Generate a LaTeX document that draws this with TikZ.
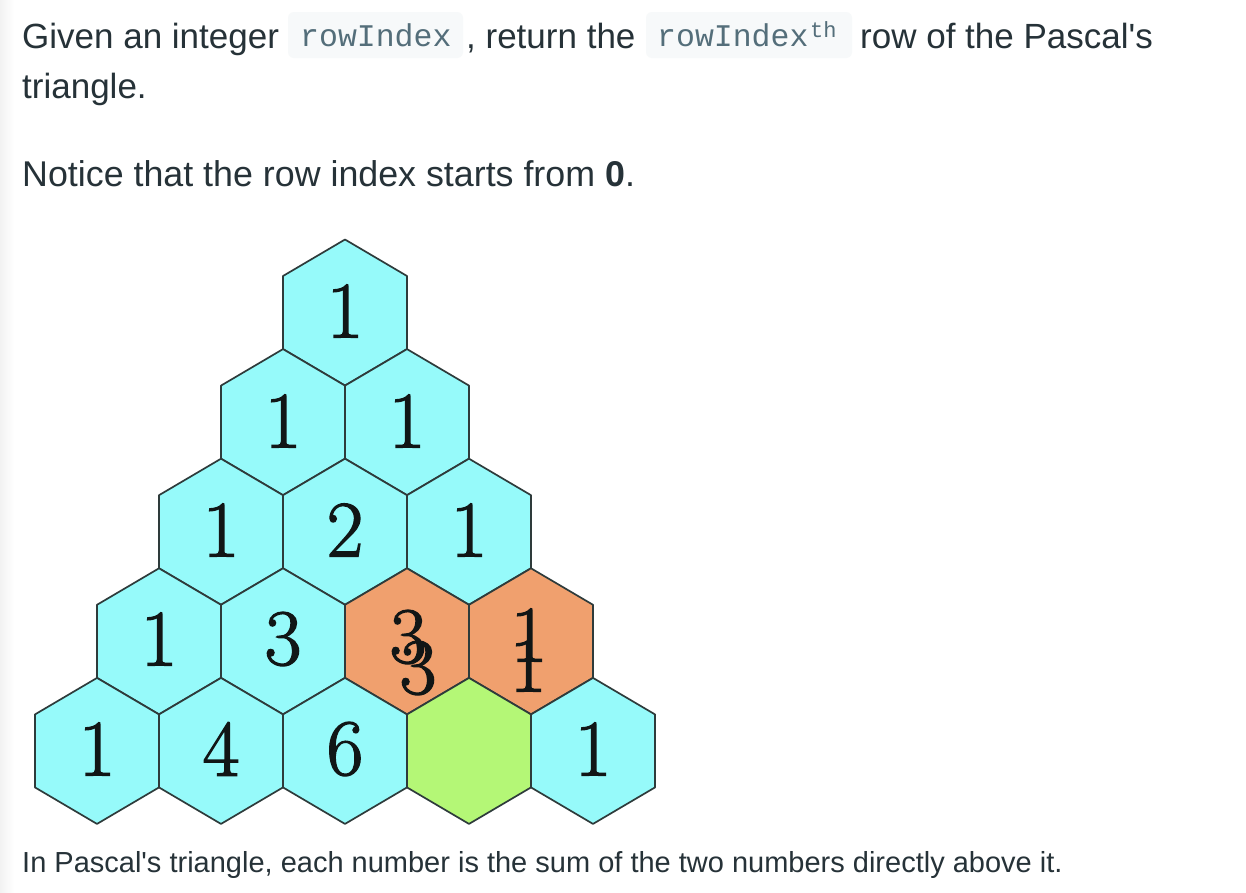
\documentclass[tikz,border=0pt]{standalone}
\usepackage{fontspec}
\newfontfamily\uisans{Liberation Sans}
\newfontfamily\codefont{Liberation Mono}
\newfontfamily\numfont[FakeBold=1.6]{Latin Modern Roman}
\definecolor{txtc}{HTML}{263238}
\definecolor{codec}{HTML}{546E7A}
\definecolor{codebgc}{HTML}{F7F9FA}
\definecolor{hexcyan}{HTML}{96FAFA}
\definecolor{hexorange}{HTML}{F0A06E}
\definecolor{hexgreen}{HTML}{B4F776}
\definecolor{hexline}{HTML}{2E3B3B}
\definecolor{numc}{HTML}{111616}
\tikzset{
  body/.style={inner sep=0pt, anchor=base west, text=txtc, font=\uisans\fontsize{35}{35}\selectfont},
  captxt/.style={inner sep=0pt, anchor=base west, text=txtc, font=\uisans\fontsize{29}{29}\selectfont},
  codetxt/.style={inner sep=0pt, anchor=base west, text=codec, font=\codefont\fontsize{31.5}{31.5}\selectfont},
  suptxt/.style={inner sep=0pt, anchor=base west, text=codec, font=\codefont\fontsize{22}{22}\selectfont},
  codebox/.style={fill=codebgc, rounded corners=6pt, draw=none, inner sep=0pt},
  hexstyle/.style={draw=hexline, line width=1.7pt, line join=round},
  num/.style={inner sep=0pt, text=numc, font=\numfont\fontsize{80}{80}\selectfont},
}
\newcommand{\hexcellat}[3]{%
  \path[hexstyle, fill=#3] (#1,#2) ++(0,-73) -- ++(62,36.5) -- ++(0,73) -- ++(-62,36.5) -- ++(-62,-36.5) -- ++(0,-73) -- cycle;}
\begin{document}
\begin{tikzpicture}[x=1pt,y=-1pt]
\useasboundingbox (0,0) rectangle (1246,892);
\fill[white] (0,0) rectangle (1246,892);
\shade[left color=black!5, right color=white] (0,0) rectangle (14,892);

% text lines
\node[body] (l1a) at (22,48) {Given an integer};
\node[codebox, minimum width=175pt, minimum height=46pt] (cb1) at (375.5,35) {};
\node[codetxt] (c1) at (300,46) {rowIndex};
\node[body] (l1b) at (466,48) {, return the};
\node[codebox, minimum width=206pt, minimum height=46pt] (cb2) at (749,35) {};
\node[codetxt] (c2) at (657,46) {rowIndex};
\node[suptxt] (c2s) at (810,37) {th};
\node[body] (l1c) at (860,48) {row of the Pascal's};
\node[body] (l2) at (22,98) {triangle.};
\node[body, font=\uisans\fontsize{35.8}{35.8}\selectfont] (l3) at (22,186) {Notice that the row index starts from \textbf{0}.};
\node[captxt] (cap) at (22,872) {In Pascal's triangle, each number is the sum of the two numbers directly above it.};

% hexagons
\hexcellat{345}{312.5}{hexcyan}
\hexcellat{283}{422.1}{hexcyan}
\hexcellat{407}{422.1}{hexcyan}
\hexcellat{221}{531.7}{hexcyan}
\hexcellat{345}{531.7}{hexcyan}
\hexcellat{469}{531.7}{hexcyan}
\hexcellat{159}{641.3}{hexcyan}
\hexcellat{283}{641.3}{hexcyan}
\hexcellat{407}{641.3}{hexorange}
\hexcellat{531}{641.3}{hexorange}
\hexcellat{97}{750.9}{hexcyan}
\hexcellat{221}{750.9}{hexcyan}
\hexcellat{345}{750.9}{hexcyan}
\hexcellat{469}{750.9}{hexgreen}
\hexcellat{593}{750.9}{hexcyan}

% numbers
\node[num] (n00) at (345,311) {1};
\node[num] (n10) at (283,421) {1};
\node[num] (n11) at (407,421) {1};
\node[num] (n20) at (221,530) {1};
\node[num] (n21) at (345,530) {2};
\node[num] (n22) at (469,530) {1};
\node[num] (n30) at (159,639) {1};
\node[num] (n31) at (283,639) {3};
\node[num] (n32a) at (408,637) {3};
\node[num] (n32b) at (418,668) {3};
\node[num] (n33a) at (529,635) {1};
\node[num] (n33b) at (528,665) {1};
\node[num] (n40) at (97,749) {1};
\node[num] (n41) at (221,749) {4};
\node[num] (n42) at (345,749) {6};
\node[num] (n44) at (593,749) {1};
\end{tikzpicture}
\end{document}
